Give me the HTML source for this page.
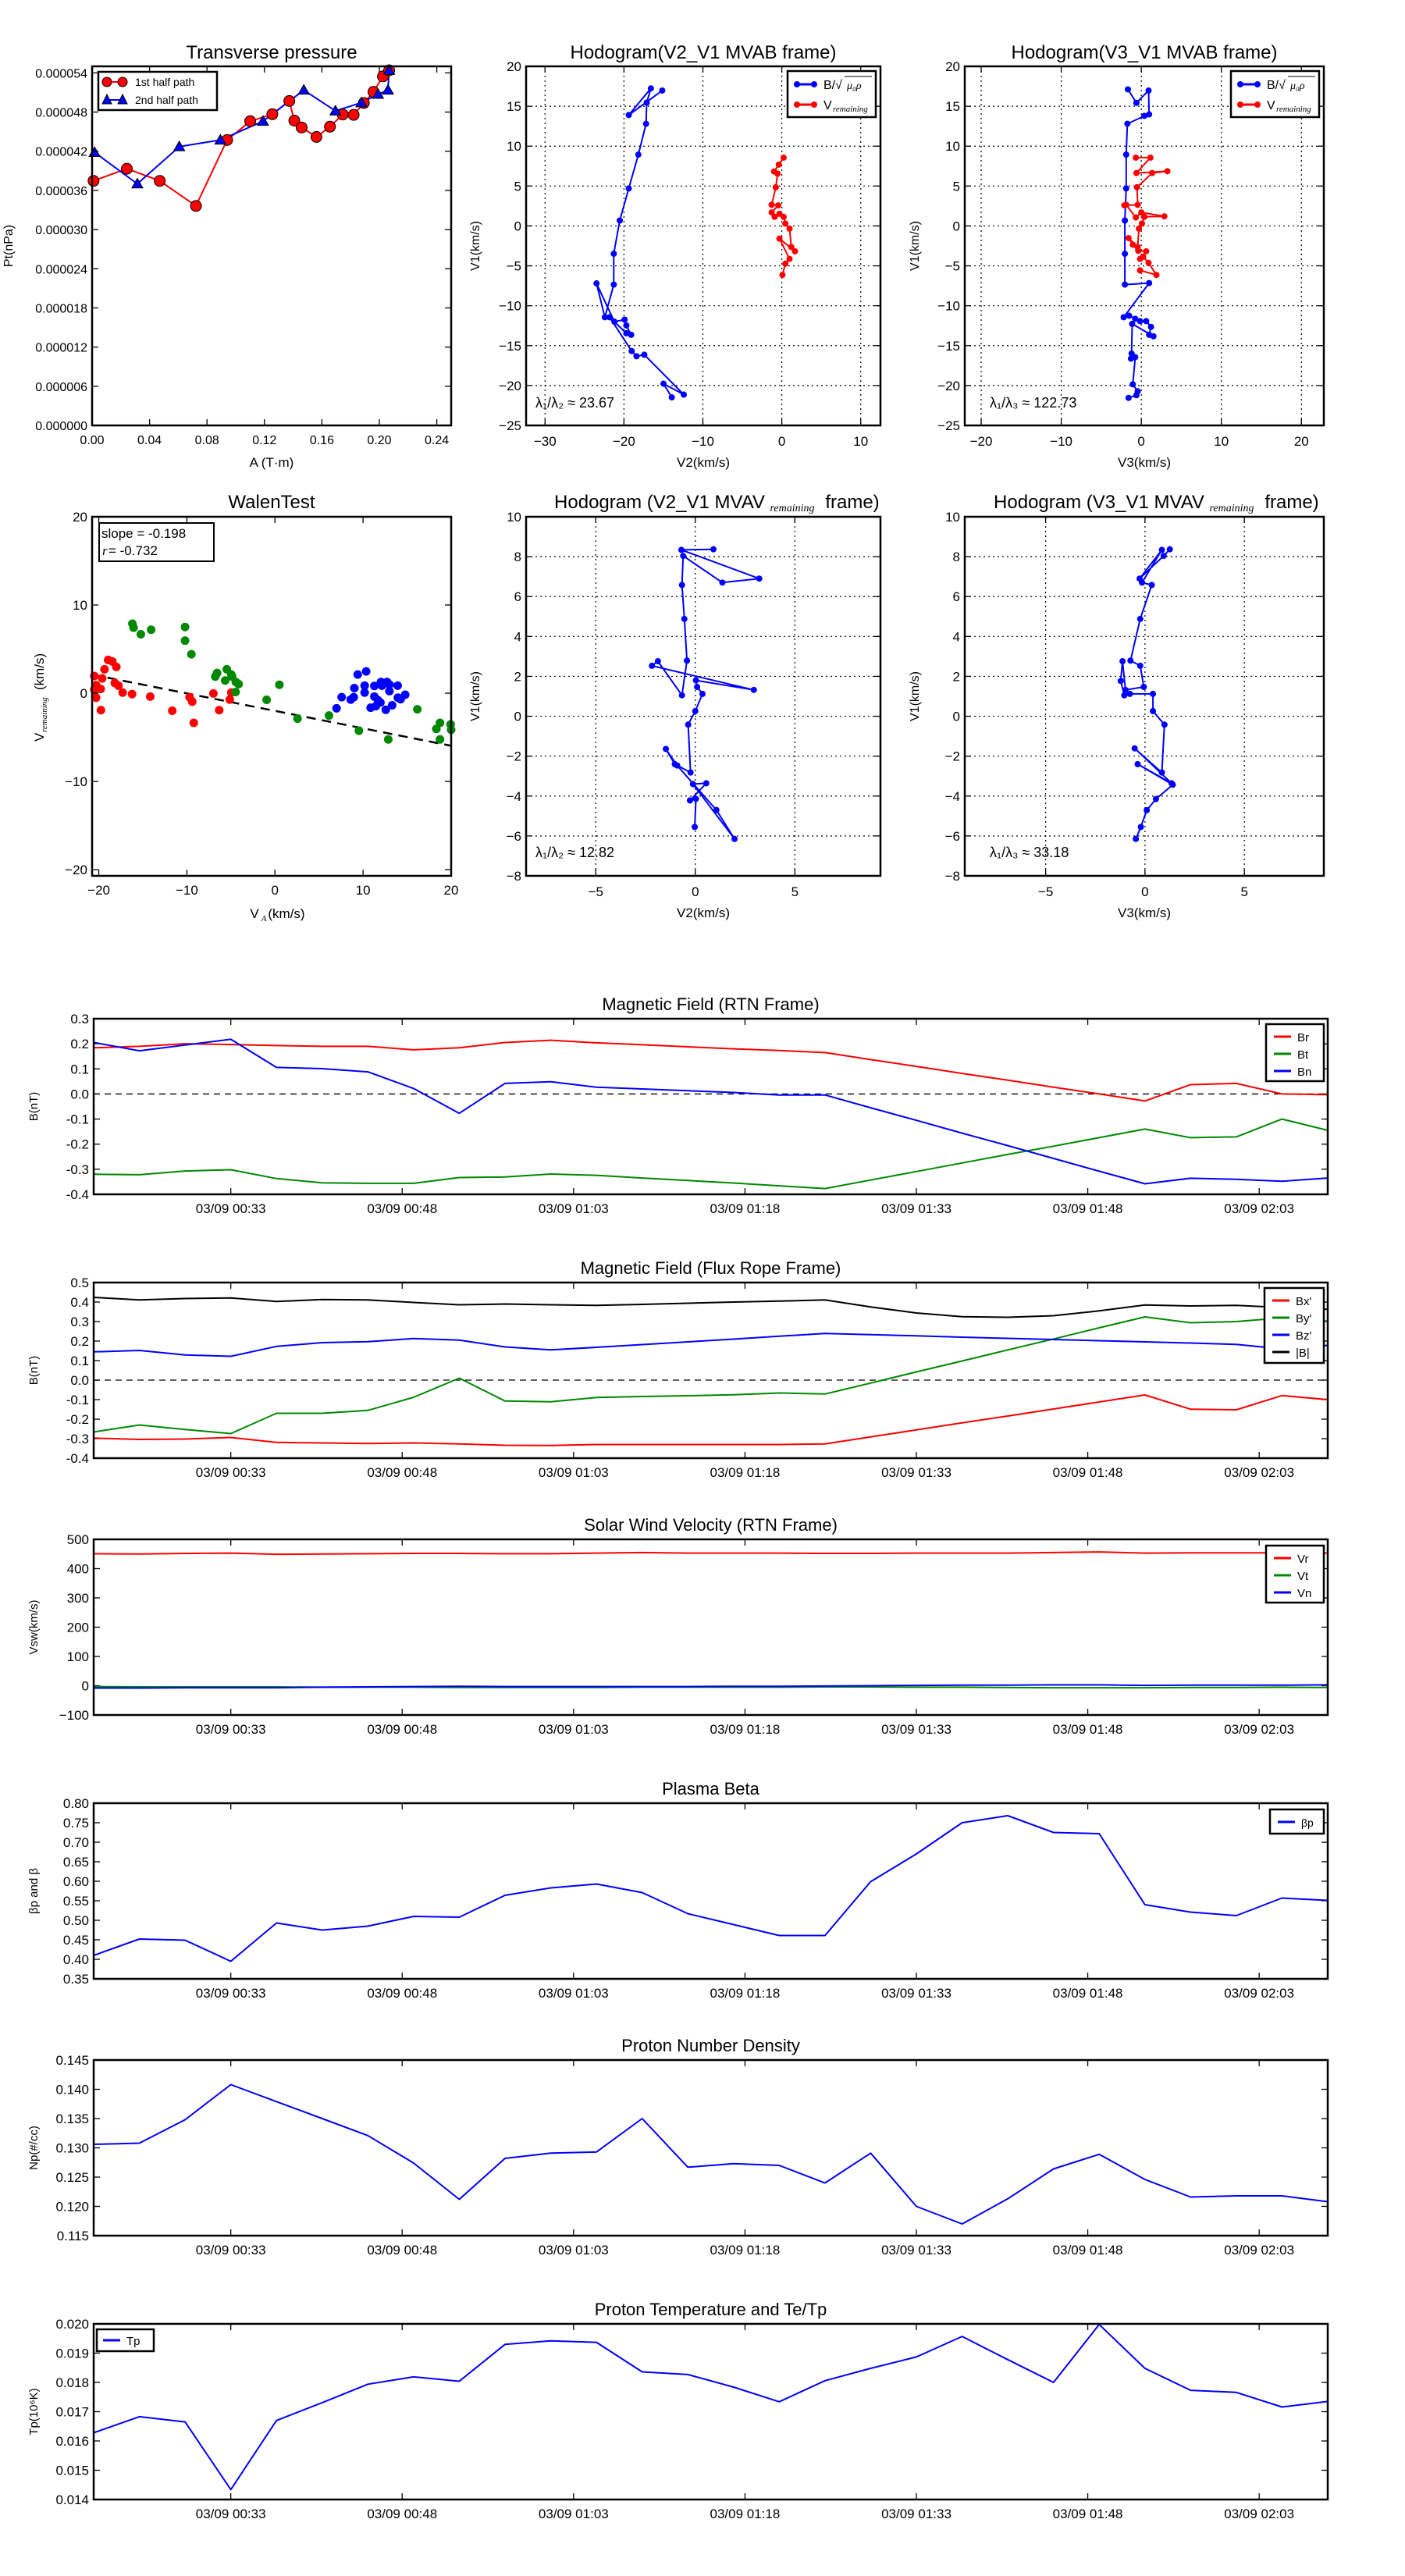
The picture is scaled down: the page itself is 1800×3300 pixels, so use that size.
<!DOCTYPE html>
<html><head><meta charset="utf-8"><style>
html,body{margin:0;padding:0;background:#fff;}
svg{display:block;font-family:"Liberation Sans",sans-serif;}
</style></head><body>
<svg id="fig" width="1800" height="3300" viewBox="0 0 1800 3300" xmlns="http://www.w3.org/2000/svg"></svg>
<script>
// ---------- Transverse pressure ----------
const tpRedA=[0.001,0.0242,0.0471,0.0723,0.0940,0.1101,0.1255,0.1373,0.1408,0.1459,0.1562,0.1656,0.1745,0.1821,0.1892,0.1959,0.2025,0.2068];
const tpRedP=[37.46,39.32,37.46,33.62,43.72,46.6,47.67,49.7,46.69,45.63,44.19,45.76,47.62,47.57,49.38,51.1,53.46,54.39];
const tpBlueA=[0.0017,0.0315,0.0607,0.0893,0.119,0.1474,0.1694,0.1875,0.1991,0.206,0.2068];
const tpBlueP=[41.82,37.0,42.7,43.72,46.6,51.37,48.17,49.43,50.72,51.37,54.39];
const tpXTicks=[0,0.04,0.08,0.12,0.16,0.20,0.24];
const tpYTicks=[0,6,12,18,24,30,36,42,48,54];
// ---------- Hodogram V2_V1 MVAB ----------
const h1BX=[-15.15,-19.39,-16.59,-17.12,-17.2,-18.18,-19.39,-20.53,-21.29,-21.29,-22.42,-23.48,-21.21,-19.92,-19.7,-19.09,-19.7,-21.82,-19.02,-18.41,-17.42,-12.42,-14.99,-13.94];
const h1BY=[16.97,13.9,17.24,15.45,12.8,8.94,4.7,0.68,-3.48,-7.35,-11.44,-7.2,-12.0,-11.74,-12.46,-13.64,-13.45,-11.44,-15.68,-16.33,-16.14,-21.14,-19.77,-21.48];
const h1RX=[0.23,-0.38,-0.98,-0.53,-0.76,-1.29,-0.45,-1.29,-0.91,-0.3,0.23,0.45,0.98,1.21,1.67,-0.3,0.98,0.45,0.08];
const h1RY=[8.56,7.69,6.82,6.55,4.85,2.65,2.58,1.7,1.14,1.52,1.14,0.3,-0.34,-2.65,-3.18,-1.59,-4.13,-4.73,-6.14];
// ---------- Hodogram V3_V1 MVAB ----------
const h2BX=[-1.67,-0.61,0.91,0.98,0.38,-1.74,-1.89,-1.89,-2.05,-2.05,-2.05,0.98,-2.2,-1.52,-0.76,-0.15,0.61,1.21,0.98,1.52,-1.14,-1.21,-1.29,-0.76,-1.06,-0.45,-0.61,-1.59];
const h2BY=[17.12,15.42,16.97,13.98,13.79,12.8,8.94,4.7,0.68,-3.48,-7.35,-7.16,-11.44,-11.25,-11.63,-11.93,-11.93,-12.65,-13.64,-13.83,-12.27,-16.0,-16.63,-16.44,-19.85,-20.72,-21.21,-21.55];
const h2RX=[-0.68,1.14,-0.61,3.26,1.36,-0.53,-0.45,-2.12,-1.89,-0.68,0.0,2.88,0.38,0.08,-0.3,-0.45,-1.59,-1.06,-0.38,0.61,-0.15,0.23,0.91,1.89,-0.15];
const h2RY=[8.56,8.56,6.63,6.86,6.63,4.85,2.65,2.58,2.65,1.06,1.7,1.21,1.14,0.3,-0.34,-2.65,-1.52,-2.35,-3.11,-3.18,-4.13,-3.86,-4.62,-6.14,-5.57];
// ---------- Walen test ----------
const wRedX=[-20.51,-20.31,-20.51,-20.31,-19.79,-19.76,-19.62,-19.35,-18.94,-18.46,-18.01,-18.18,-17.77,-17.29,-16.22,-14.16,-11.66,-9.7,-9.39,-9.22,-6.99,-6.33,-5.13,-4.96];
const wRedY=[1.95,0.92,0.41,-0.51,0.48,-1.92,1.68,2.71,3.77,3.6,2.98,1.16,0.86,0.07,-0.1,-0.38,-1.99,-0.45,-0.96,-3.36,-0.03,-1.92,-0.72,0.07];
const wGreenX=[-16.19,-16.05,-15.23,-14.06,-10.21,-10.21,-9.49,-6.57,-6.78,-5.47,-4.96,-4.86,-5.65,-4.44,-4.13,-4.47,-0.95,0.5,2.56,6.13,9.53,12.86,16.16,18.32,18.73,18.73,19.94,20.0];
const wGreenY=[7.88,7.43,6.68,7.19,7.5,5.96,4.42,2.29,1.88,2.71,2.12,1.88,1.44,1.27,1.03,0.14,-0.75,0.96,-2.88,-2.53,-4.25,-5.24,-1.82,-4.04,-3.36,-5.24,-3.53,-4.14];
const wBlueX=[6.99,7.57,8.6,8.94,9.01,9.39,10.18,10.18,10.35,10.86,11.28,11.28,11.45,11.69,11.97,12.03,12.14,12.58,12.72,12.99,12.99,13.3,13.92,13.95,14.26,14.78];
const wBlueY=[-1.71,-0.45,-0.72,-0.45,0.58,2.12,0.86,0.07,2.47,-1.64,0.82,-0.38,-1.47,-0.79,-1.06,1.27,0.86,-1.88,1.27,0.24,0.99,-1.37,0.86,-0.51,-0.68,-0.17];
const walenSlope=-0.198, walenIntercept=-2.0;
// ---------- Hodograms MVAV ----------
const h3X=[0.91,-0.7,3.21,1.36,-0.61,-0.67,-0.55,-0.42,-0.67,-1.88,-2.18,2.94,0.03,0.09,0.36,0,-0.36,-0.24,-1.03,-1.48,-0.91,1.06,1.97,-0.12,0.55,-0.27,0.03,-0.03];
const h3Y=[8.37,8.34,6.9,6.7,8.04,6.58,4.88,2.79,1.05,2.76,2.53,1.32,1.8,1.47,1.12,0.26,-0.42,-2.82,-2.4,-1.64,-2.47,-4.7,-6.15,-3.4,-3.36,-4.22,-4.14,-5.55];
const h4X=[1.25,0.94,-0.27,0.85,-0.15,0.34,-0.24,-0.73,-0.24,-0.06,-0.98,-1.13,-1.22,-1.04,-0.76,0.40,0.40,0.98,0.85,-0.52,1.34,-0.37,1.40,0.55,0.09,-0.21,-0.46];
const h4Y=[8.37,8.04,6.9,8.34,6.7,6.58,4.88,2.79,2.53,1.47,1.32,2.76,1.77,1.05,1.12,1.12,0.26,-0.42,-2.82,-1.61,-3.36,-2.4,-3.43,-4.15,-4.71,-5.55,-6.15];
// ---------- Time series (t = minutes since 00:21, 4-min cadence) ----------
const tMin=[0,4,8,12,16,20,24,28,32,36,40,44,48,52,56,60,64,68,72,76,80,84,88,92,96,100,104,108];
const timeTicks=[12,27,42,57,72,87,102];
const timeTickLabels=["03/09 00:33","03/09 00:48","03/09 01:03","03/09 01:18","03/09 01:33","03/09 01:48","03/09 02:03"];
const Br=[0.184,0.19,0.2,0.197,0.193,0.19,0.19,0.176,0.184,0.205,0.214,0.204,0.196,0.188,0.18,0.173,0.165,0.137,0.11,0.082,0.055,0.027,0.0,-0.028,0.037,0.042,0.0,-0.003];
const Bt=[-0.32,-0.322,-0.307,-0.302,-0.337,-0.354,-0.356,-0.356,-0.333,-0.331,-0.319,-0.324,-0.335,-0.345,-0.355,-0.366,-0.377,-0.343,-0.309,-0.275,-0.241,-0.208,-0.174,-0.14,-0.174,-0.171,-0.1,-0.145];
const Bn=[0.205,0.172,0.195,0.218,0.106,0.101,0.088,0.022,-0.077,0.042,0.049,0.027,0.02,0.013,0.006,-0.004,-0.004,-0.055,-0.105,-0.156,-0.206,-0.257,-0.308,-0.358,-0.336,-0.34,-0.348,-0.335];
const Bx=[-0.297,-0.304,-0.302,-0.294,-0.319,-0.322,-0.325,-0.322,-0.327,-0.334,-0.335,-0.33,-0.33,-0.33,-0.33,-0.33,-0.327,-0.291,-0.255,-0.219,-0.184,-0.148,-0.112,-0.076,-0.149,-0.152,-0.079,-0.1];
const By=[-0.266,-0.23,-0.253,-0.274,-0.17,-0.17,-0.155,-0.088,0.01,-0.107,-0.111,-0.089,-0.084,-0.08,-0.075,-0.066,-0.071,-0.015,0.042,0.098,0.155,0.211,0.268,0.324,0.294,0.3,0.319,0.302];
const Bz=[0.145,0.152,0.129,0.122,0.173,0.192,0.197,0.213,0.205,0.17,0.155,0.168,0.182,0.196,0.21,0.225,0.239,0.233,0.227,0.22,0.214,0.208,0.202,0.196,0.19,0.183,0.16,0.178];
const Bmag=[0.424,0.411,0.418,0.421,0.403,0.413,0.411,0.398,0.386,0.39,0.386,0.383,0.388,0.394,0.4,0.405,0.411,0.375,0.344,0.325,0.322,0.33,0.355,0.385,0.38,0.383,0.372,0.363];
const Vr=[451,450,452,453,449,450,451,452,452,451,451,453,455,453,453,453,452,452,453,453,453,455,457,453,454,454,454,453];
const Vt=[-3,-4,-4,-4,-4,-5,-5,-5,-6,-6,-6,-6,-5,-5,-5,-5,-4,-4,-5,-5,-6,-7,-7,-7,-6,-6,-5,-6];
const Vn=[-8,-8,-7,-7,-7,-5,-4,-3,-2,-3,-3,-3,-3,-3,-2,-2,-1,0,1,2,2,3,3,1,2,2,2,3];
const betaP=[0.41,0.452,0.449,0.395,0.493,0.475,0.485,0.51,0.508,0.564,0.583,0.593,0.571,0.517,0.489,0.461,0.461,0.599,0.67,0.75,0.768,0.725,0.722,0.54,0.521,0.512,0.557,0.551];
const Np=[0.1306,0.1308,0.1348,0.1408,0.1379,0.135,0.1321,0.1274,0.1212,0.1282,0.1291,0.1293,0.135,0.1267,0.1273,0.127,0.124,0.1291,0.12,0.117,0.1213,0.1264,0.1289,0.1246,0.1216,0.1218,0.1218,0.1208];
const Tp=[0.01628,0.01683,0.01665,0.01434,0.0167,0.01731,0.01794,0.01819,0.01804,0.0193,0.01942,0.01937,0.01836,0.01827,0.01784,0.01734,0.01806,0.01848,0.01887,0.01957,0.01878,0.018,0.01998,0.01848,0.01773,0.01766,0.01716,0.01735];

const NS="http://www.w3.org/2000/svg";
const fig=document.getElementById('fig');
function mk(tag,attrs,parent){const e=document.createElementNS(NS,tag);for(const k in attrs)e.setAttribute(k,attrs[k]);(parent||fig).appendChild(e);return e;}
function txt(s,x,y,size,anchor,parent,extra){const t=mk('text',Object.assign({x:x,y:y,'font-size':size,'text-anchor':anchor||'middle',fill:'#000'},extra||{}),parent);t.textContent=s;return t;}
function minus(v,d){const s=(d===undefined?String(v):v.toFixed(d));return s.replace('-','\u2212');}

function axes(name,x0,y0,w,h,xmin,xmax,ymin,ymax){
  const g=mk('g',{});
  
  
  const ax={g:g,x0:x0,y0:y0,w:w,h:h,
    sx:v=>x0+(v-xmin)/(xmax-xmin)*w,
    sy:v=>y0+h-(v-ymin)/(ymax-ymin)*h};
  return ax;
}
function frame(ax){
  const r=mk('rect',{x:ax.x0,y:ax.y0,width:ax.w,height:ax.h,fill:'none',stroke:'#000','stroke-width':2.5},ax.g);
  
  
}
function xticks(ax,vals,labels,size,grid,dy){
  vals.forEach((v,i)=>{
    const x=ax.sx(v);
    if(grid){const l=mk('line',{x1:x,x2:x,y1:ax.y0,y2:ax.y0+ax.h,stroke:'#000','stroke-width':1.2,'stroke-dasharray':'2,4'},ax.g);
      
      }
    mk('line',{x1:x,x2:x,y1:ax.y0+ax.h,y2:ax.y0+ax.h-8,stroke:'#000','stroke-width':1.3},ax.g);
    mk('line',{x1:x,x2:x,y1:ax.y0,y2:ax.y0+8,stroke:'#000','stroke-width':1.3},ax.g);
    const t=txt(labels[i],x,ax.y0+ax.h+(dy||25),size,'middle',ax.g);
    
    
  });
}
function yticks(ax,vals,labels,size,grid){
  vals.forEach((v,i)=>{
    const y=ax.sy(v);
    if(grid){const l=mk('line',{x1:ax.x0,x2:ax.x0+ax.w,y1:y,y2:y,stroke:'#000','stroke-width':1.2,'stroke-dasharray':'2,4'},ax.g);
      
      }
    mk('line',{x1:ax.x0,x2:ax.x0+8,y1:y,y2:y,stroke:'#000','stroke-width':1.3},ax.g);
    mk('line',{x1:ax.x0+ax.w,x2:ax.x0+ax.w-8,y1:y,y2:y,stroke:'#000','stroke-width':1.3},ax.g);
    const t=txt(labels[i],ax.x0-6,y+6,size,'end',ax.g);
    
    
  });
}
function line(ax,xs,ys,color,name,w,dash){
  const pts=xs.map((x,i)=>ax.sx(x).toFixed(1)+','+ax.sy(ys[i]).toFixed(1)).join(' ');
  const p=mk('polyline',{points:pts,fill:'none',stroke:color,'stroke-width':w||2,'stroke-linejoin':'round'},ax.g);
  if(dash)p.setAttribute('stroke-dasharray',dash);
  
  
  return p;
}
function dots(ax,xs,ys,color,r,name,stroke){
  xs.forEach((x,i)=>{
    const c=mk('circle',{cx:ax.sx(x),cy:ax.sy(ys[i]),r:r,fill:color,stroke:stroke||'none','stroke-width':1},ax.g);
    
    
  });
}
function tris(ax,xs,ys,color,r,name){
  xs.forEach((x,i)=>{
    const cx=ax.sx(x),cy=ax.sy(ys[i]);
    const p=mk('polygon',{points:`${cx},${cy-r} ${cx-r},${cy+r*0.75} ${cx+r},${cy+r*0.75}`,fill:color,stroke:'#000','stroke-width':1},ax.g);
    
    
  });
}
function title(ax,s,y,size){const t=txt(s,ax.x0+ax.w/2,y,size,'middle',ax.g);return t;}
function xlabel(ax,s,y,size){const t=txt(s,ax.x0+ax.w/2,y,size,'middle',ax.g);return t;}
function ylabel(ax,s,x,size){const cy=ax.y0+ax.h/2;const t=txt(s,x,cy,size,'middle',ax.g,{transform:`rotate(-90 ${x} ${cy})`});return t;}
function legendBox(ax,x,y,w,h){const r=mk('rect',{x:x,y:y,width:w,height:h,fill:'#fff',stroke:'#000','stroke-width':2.5},ax.g);}
function legendEntry(ax,x,y,color,label,size,marker){
  mk('line',{x1:x,x2:x+22,y1:y,y2:y,stroke:color,'stroke-width':3},ax.g);
  if(marker){mk('circle',{cx:x,cy:y,r:4,fill:color},ax.g);mk('circle',{cx:x+22,cy:y,r:4,fill:color},ax.g);}
  const t=txt(label,x+30,y+6,size,'start',ax.g);
  
  
  return t;
}
function rng(a,b,s){const r=[];for(let v=a;v<=b+1e-9;v+=s)r.push(+v.toFixed(6));return r;}

// ===== Panel 1: Transverse pressure =====
{const ax=axes('transverse-pressure-chart',118,85,460,460,0,0.25,0,55);
 line(ax,tpRedA,tpRedP,'#f00','series-1st-half-path',2);
 line(ax,tpBlueA,tpBlueP,'#00f','series-2nd-half-path',2);
 dots(ax,tpRedA,tpRedP,'#f00',7,'point-1st-half','#000');
 tris(ax,tpBlueA,tpBlueP,'#00f',7,'point-2nd-half');
 frame(ax);
 xticks(ax,tpXTicks,tpXTicks.map(v=>v.toFixed(2)),16,false,24);
 yticks(ax,tpYTicks,tpYTicks.map(v=>(v*1e-6).toFixed(6)),16,false);
 title(ax,'Transverse pressure',75,24);
 xlabel(ax,'A (T\u00b7m)',598,17);
 ylabel(ax,'Pt(nPa)',16,16);
 legendBox(ax,126,92,152,49);
 mk('line',{x1:136,x2:158,y1:105,y2:105,stroke:'#f00','stroke-width':2},ax.g);
 mk('circle',{cx:137,cy:105,r:6,fill:'#f00',stroke:'#000'},ax.g);mk('circle',{cx:157,cy:105,r:6,fill:'#f00',stroke:'#000'},ax.g);
 let t=txt('1st half path',173,110,14,'start',ax.g);
 mk('line',{x1:136,x2:158,y1:128,y2:128,stroke:'#00f','stroke-width':2},ax.g);
 mk('polygon',{points:'137,121 131,133 143,133',fill:'#00f',stroke:'#000'},ax.g);mk('polygon',{points:'157,121 151,133 163,133',fill:'#00f',stroke:'#000'},ax.g);
 t=txt('2nd half path',173,133,14,'start',ax.g);
}
// ===== Hodograms MVAB =====
function hodoLegend(ax,lx){
  legendBox(ax,lx,91,113,59);
  legendEntry(ax,lx+12,108,'#00f','',14,true);
  let t=txt('B/\u221a',lx+46,114,16,'start',ax.g);
  mk('line',{x1:lx+73,x2:lx+108,y1:98,y2:98,stroke:'#000','stroke-width':1},ax.g);
  t=txt('\u03bc\u2080\u03c1',lx+76,114,14,'start',ax.g,{'font-style':'italic','font-family':'Liberation Serif, serif'});
  legendEntry(ax,lx+12,134,'#f00','',14,true);
  t=txt('V',lx+46,140,16,'start',ax.g);
  txt('remaining',lx+58,143,11,'start',ax.g,{'font-style':'italic','font-family':'Liberation Serif, serif'});
}
{const ax=axes('hodogram-v2-v1-mvab',674,85,454,460,-32.4,12.5,-25,20);
 xticks(ax,[-30,-20,-10,0,10],['\u221230','\u221220','\u221210','0','10'],17,true,26);
 yticks(ax,rng(-25,20,5),rng(-25,20,5).map(v=>minus(v)),17,true);
 line(ax,h1BX,h1BY,'#00f','series-b-alfven',2);dots(ax,h1BX,h1BY,'#00f',4,'point-b-alfven');
 line(ax,h1RX,h1RY,'#f00','series-v-remaining',2);dots(ax,h1RX,h1RY,'#f00',4,'point-v-remaining');
 frame(ax);
 title(ax,'Hodogram(V2_V1 MVAB frame)',75,24);
 xlabel(ax,'V2(km/s)',598,17);ylabel(ax,'V1(km/s)',614,16);
 hodoLegend(ax,1009);
 let t=txt('\u03bb\u2081/\u03bb\u2082 \u2248 23.67',686,522,18,'start',ax.g);
}
{const ax=axes('hodogram-v3-v1-mvab',1236,85,460,460,-22.05,22.8,-25,20);
 xticks(ax,[-20,-10,0,10,20],['\u221220','\u221210','0','10','20'],17,true,26);
 yticks(ax,rng(-25,20,5),rng(-25,20,5).map(v=>minus(v)),17,true);
 line(ax,h2BX,h2BY,'#00f','series-b-alfven',2);dots(ax,h2BX,h2BY,'#00f',4,'point-b-alfven');
 line(ax,h2RX,h2RY,'#f00','series-v-remaining',2);dots(ax,h2RX,h2RY,'#f00',4,'point-v-remaining');
 frame(ax);
 title(ax,'Hodogram(V3_V1 MVAB frame)',75,24);
 xlabel(ax,'V3(km/s)',598,17);ylabel(ax,'V1(km/s)',1177,16);
 hodoLegend(ax,1577);
 let t=txt('\u03bb\u2081/\u03bb\u2083 \u2248 122.73',1268,522,18,'start',ax.g);
}
// ===== Walen test =====
{const ax=axes('walen-test-chart',118,662,460,460,-20.76,20,-20.7,20);
 const lx=[-20.76,20];const ly=lx.map(v=>walenSlope*v+walenIntercept);
 line(ax,lx,ly,'#000','regression-line',2.5,'12,8');
 dots(ax,wRedX,wRedY,'#f00',5.5,'walen-point-red');
 dots(ax,wGreenX,wGreenY,'#080',5.5,'walen-point-green');
 dots(ax,wBlueX,wBlueY,'#00f',5.5,'walen-point-blue');
 frame(ax);
 xticks(ax,[-20,-10,0,10,20],['\u221220','\u221210','0','10','20'],17,false,24);
 yticks(ax,[-20,-10,0,10,20],['\u221220','\u221210','0','10','20'],17,false);
 title(ax,'WalenTest',651,24);
 const xl=txt('V',326,1176,17,'middle',ax.g);
 txt('A',338,1180,11,'middle',ax.g,{'font-style':'italic','font-family':'Liberation Serif, serif'});
 txt('(km/s)',367,1176,17,'middle',ax.g);
 const yl=txt('V',56,950,17,'start',ax.g,{transform:'rotate(-90 56 950)'});
 txt('remaining',60,938,11,'start',ax.g,{transform:'rotate(-90 60 938)','font-style':'italic','font-family':'Liberation Serif, serif'});
 txt('(km/s)',56,884,17,'start',ax.g,{transform:'rotate(-90 56 884)'});
 const b=mk('rect',{x:127,y:670,width:147,height:49,fill:'#fff',stroke:'#000','stroke-width':2},ax.g);
 txt('slope = -0.198',130,689,17,'start',ax.g);
 txt('r',131,711,17,'start',ax.g,{'font-style':'italic','font-family':'Liberation Serif, serif'});
 txt(' = -0.732',139,711,17,'start',ax.g);
}
// ===== Hodograms MVAV =====
{const ax=axes('hodogram-v2-v1-mvav',674,662,454,460,-8.5,9.3,-8,10);
 xticks(ax,[-5,0,5],['\u22125','0','5'],17,true,26);
 yticks(ax,rng(-8,10,2),rng(-8,10,2).map(v=>minus(v)),17,true);
 line(ax,h3X,h3Y,'#00f','series-b-alfven',2);dots(ax,h3X,h3Y,'#00f',4,'point-b-alfven');
 frame(ax);
 title(ax,'Hodogram (V2_V1 MVAV',895,650,24);
 let t=txt('Hodogram (V2_V1 MVAV',845,651,24,'middle',ax.g);
 ax.g.removeChild(ax.g.children[ax.g.children.length-2]);
 txt('remaining',1015,655,14,'middle',ax.g,{'font-style':'italic','font-family':'Liberation Serif, serif'});
 txt('frame)',1092,651,24,'middle',ax.g);
 xlabel(ax,'V2(km/s)',1175,17);ylabel(ax,'V1(km/s)',614,16);
 t=txt('\u03bb\u2081/\u03bb\u2082 \u2248 12.82',686,1098,18,'start',ax.g);
}
{const ax=axes('hodogram-v3-v1-mvav',1236,662,460,460,-9.07,9.0,-8,10);
 xticks(ax,[-5,0,5],['\u22125','0','5'],17,true,26);
 yticks(ax,rng(-8,10,2),rng(-8,10,2).map(v=>minus(v)),17,true);
 line(ax,h4X,h4Y,'#00f','series-b-alfven',2);dots(ax,h4X,h4Y,'#00f',4,'point-b-alfven');
 frame(ax);
 let t=txt('Hodogram (V3_V1 MVAV',1408,651,24,'middle',ax.g);
 txt('remaining',1578,655,14,'middle',ax.g,{'font-style':'italic','font-family':'Liberation Serif, serif'});
 txt('frame)',1655,651,24,'middle',ax.g);
 xlabel(ax,'V3(km/s)',1175,17);ylabel(ax,'V1(km/s)',1177,16);
 t=txt('\u03bb\u2081/\u03bb\u2083 \u2248 33.18',1268,1098,18,'start',ax.g);
}
// ===== Time series =====
function ts(name,top,ymin,ymax,yvals,ylabs,ttl,ylab){
  const ax=axes(name,120,top,1581,225,0,108,ymin,ymax);
  yticks(ax,yvals,ylabs,17,false);
  xticks(ax,timeTicks,timeTickLabels,17,false,24);
  title(ax,ttl,top-11,22);
  ylabel(ax,ylab,48,15);
  return ax;
}
function zeroLine(ax){const l=mk('line',{x1:ax.x0,x2:ax.x0+ax.w,y1:ax.sy(0),y2:ax.sy(0),stroke:'#000','stroke-width':1.3,'stroke-dasharray':'8,6'},ax.g);}
{const v=rng(-0.4,0.3,0.1);const ax=ts('magnetic-field-rtn-chart',1305,-0.4,0.3,v,v.map(x=>x.toFixed(1)),'Magnetic Field (RTN Frame)','B(nT)');
 zeroLine(ax);
 line(ax,tMin,Br,'#f00','series-br',2);line(ax,tMin,Bt,'#080','series-bt',2);line(ax,tMin,Bn,'#00f','series-bn',2);
 frame(ax);
 legendBox(ax,1622,1312,74,73);
 legendEntry(ax,1632,1328,'#f00','Br',15);legendEntry(ax,1632,1350,'#080','Bt',15);legendEntry(ax,1632,1372,'#00f','Bn',15);
}
{const v=rng(-0.4,0.5,0.1);const ax=ts('magnetic-field-flux-rope-chart',1643,-0.4,0.5,v,v.map(x=>x.toFixed(1)),'Magnetic Field (Flux Rope Frame)','B(nT)');
 zeroLine(ax);
 line(ax,tMin,Bx,'#f00','series-bx',2);line(ax,tMin,By,'#080','series-by',2);line(ax,tMin,Bz,'#00f','series-bz',2);line(ax,tMin,Bmag,'#000','series-bmag',2);
 frame(ax);
 legendBox(ax,1620,1650,76,96);
 legendEntry(ax,1630,1666,'#f00',"Bx'",15);legendEntry(ax,1630,1688,'#080',"By'",15);legendEntry(ax,1630,1710,'#00f',"Bz'",15);legendEntry(ax,1630,1732,'#000','|B|',15);
}
{const v=rng(-100,500,100);const ax=ts('solar-wind-velocity-chart',1972,-100,500,v,v.map(x=>minus(x)),'Solar Wind Velocity (RTN Frame)','Vsw(km/s)');
 line(ax,tMin,Vr,'#f00','series-vr',2);line(ax,tMin,Vt,'#080','series-vt',2);line(ax,tMin,Vn,'#00f','series-vn',2);
 frame(ax);
 legendBox(ax,1622,1980,74,73);
 legendEntry(ax,1632,1996,'#f00','Vr',15);legendEntry(ax,1632,2018,'#080','Vt',15);legendEntry(ax,1632,2040,'#00f','Vn',15);
}
{const v=rng(0.35,0.8,0.05);const ax=ts('plasma-beta-chart',2310,0.35,0.8,v,v.map(x=>x.toFixed(2)),'Plasma Beta','\u03b2p and \u03b2');
 line(ax,tMin,betaP,'#00f','series-beta-p',2);
 frame(ax);
 legendBox(ax,1627,2318,69,31);
 legendEntry(ax,1637,2334,'#00f','\u03b2p',14);
}
{const v=rng(0.115,0.145,0.005);const ax=ts('proton-density-chart',2639,0.115,0.145,v,v.map(x=>x.toFixed(3)),'Proton Number Density','Np(#/cc)');
 line(ax,tMin,Np,'#00f','series-np',2);
 frame(ax);
}
{const v=rng(0.014,0.02,0.001);const ax=ts('proton-temperature-chart',2977,0.014,0.02,v,v.map(x=>x.toFixed(3)),'Proton Temperature and Te/Tp','Tp(10\u2076K)');
 line(ax,tMin,Tp,'#00f','series-tp',2);
 frame(ax);
 legendBox(ax,124,2984,73,28);
 legendEntry(ax,132,2998,'#00f','Tp',15);
}
</script>
</body></html>
